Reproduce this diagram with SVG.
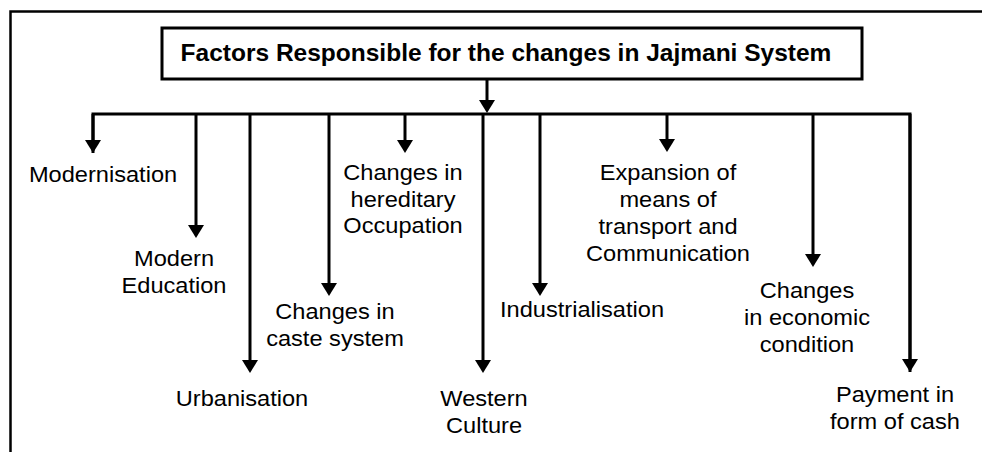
<svg xmlns="http://www.w3.org/2000/svg" width="982" height="452" viewBox="0 0 982 452">
  <defs>
    <marker id="arrow" viewBox="0 -8 13 16" refX="1" refY="0" markerWidth="13" markerHeight="16" markerUnits="userSpaceOnUse" orient="auto">
      <path d="M0,-8 L13,0 L0,8 z" fill="#000"/>
    </marker>
    <style>
      .frame { fill: none; stroke: #000; stroke-width: 2.5; }
      .box { fill: #fff; stroke: #000; stroke-width: 3; }
      .title { font-family: "Liberation Sans", Arial, sans-serif; font-weight: bold; font-size: 24.5px; fill: #000; text-anchor: middle; }
      .wire { fill: none; stroke: #000; stroke-width: 3; }
      .lbl { font-family: "Liberation Sans", Arial, sans-serif; font-size: 22.5px; fill: #000; text-anchor: middle; }
    </style>
  </defs>

  <rect width="982" height="452" fill="#fff"/>

  <!-- outer frame (open to the right and bottom edges) -->
  <path class="frame" d="M10.5,452 V11.5 H982"/>

  <!-- root node -->
  <g id="root">
    <rect class="box" x="162" y="28" width="700" height="51"/>
    <text class="title" x="506" y="61">Factors Responsible for the changes in Jajmani System</text>
  </g>

  <!-- connectors -->
  <g id="connectors">
    <path class="wire" d="M487,79 V101" marker-end="url(#arrow)"/>
    <path class="wire" d="M93,153 V114 H910 V372" stroke-linejoin="miter"/>
    <path class="wire" d="M93,114 V141" marker-end="url(#arrow)"/>
    <path class="wire" d="M196,114 V226" marker-end="url(#arrow)"/>
    <path class="wire" d="M250,114 V361" marker-end="url(#arrow)"/>
    <path class="wire" d="M329,114 V284" marker-end="url(#arrow)"/>
    <path class="wire" d="M405,114 V141" marker-end="url(#arrow)"/>
    <path class="wire" d="M483,114 V361" marker-end="url(#arrow)"/>
    <path class="wire" d="M540,114 V284" marker-end="url(#arrow)"/>
    <path class="wire" d="M667,114 V140" marker-end="url(#arrow)"/>
    <path class="wire" d="M813,114 V255" marker-end="url(#arrow)"/>
    <path class="wire" d="M910,114 V360" marker-end="url(#arrow)"/>
  </g>

  <!-- factor nodes -->
  <g id="modernisation" transform="translate(103,0) scale(1.05,1)">
    <text class="lbl" x="0" y="182">Modernisation</text>
  </g>
  <g id="modern-education" transform="translate(174,0) scale(1.05,1)">
    <text class="lbl" x="0" y="266">Modern</text>
    <text class="lbl" x="0" y="293">Education</text>
  </g>
  <g id="urbanisation" transform="translate(242,0) scale(1.05,1)">
    <text class="lbl" x="0" y="406">Urbanisation</text>
  </g>
  <g id="caste-system" transform="translate(335,0) scale(1.05,1)">
    <text class="lbl" x="0" y="319">Changes in</text>
    <text class="lbl" x="0" y="346">caste system</text>
  </g>
  <g id="hereditary-occupation" transform="translate(403,0) scale(1.05,1)">
    <text class="lbl" x="0" y="180">Changes in</text>
    <text class="lbl" x="0" y="207">hereditary</text>
    <text class="lbl" x="0" y="233">Occupation</text>
  </g>
  <g id="western-culture" transform="translate(484,0) scale(1.05,1)">
    <text class="lbl" x="0" y="406">Western</text>
    <text class="lbl" x="0" y="433">Culture</text>
  </g>
  <g id="industrialisation" transform="translate(582,0) scale(1.05,1)">
    <text class="lbl" x="0" y="317">Industrialisation</text>
  </g>
  <g id="transport-communication" transform="translate(668,0) scale(1.05,1)">
    <text class="lbl" x="0" y="180">Expansion of</text>
    <text class="lbl" x="0" y="207">means of</text>
    <text class="lbl" x="0" y="234">transport and</text>
    <text class="lbl" x="0" y="261">Communication</text>
  </g>
  <g id="economic-condition" transform="translate(807,0) scale(1.05,1)">
    <text class="lbl" x="0" y="298">Changes</text>
    <text class="lbl" x="0" y="325">in economic</text>
    <text class="lbl" x="0" y="352">condition</text>
  </g>
  <g id="payment-cash" transform="translate(895,0) scale(1.05,1)">
    <text class="lbl" x="0" y="402">Payment in</text>
    <text class="lbl" x="0" y="429">form of cash</text>
  </g>
</svg>
